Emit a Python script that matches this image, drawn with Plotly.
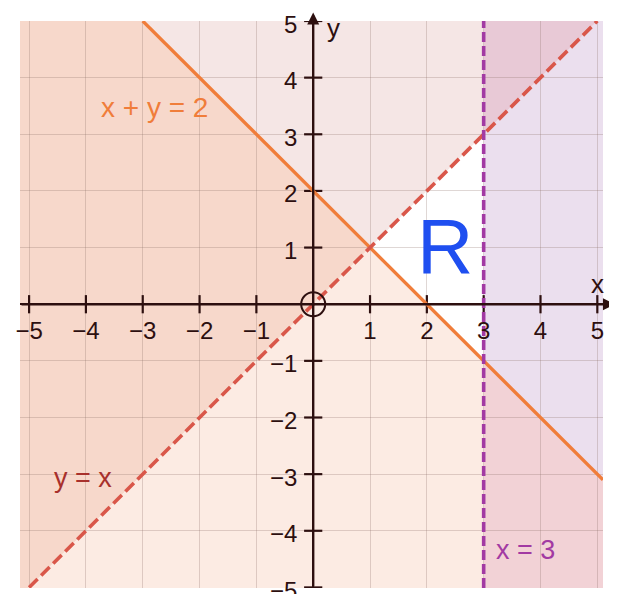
import plotly.graph_objects as go

# Half-planes that are shaded (the parts NOT in R), as a*x + b*y + c >= 0
# y > x, x + y < 2, x > 3
half_planes = {
    "A": (-1.0, 1.0, 0.0),
    "B": (-1.0, -1.0, 2.0),
    "C": (1.0, 0.0, -3.0),
}
# colour of each overlap combination (A, B, C)
region_colors = {
    (1, 0, 0): "#f5e6e5",
    (1, 1, 0): "#f7d8cb",
    (0, 1, 0): "#fcebe3",
    (0, 0, 1): "#ebdfee",
    (1, 0, 1): "#e8c9d6",
    (0, 1, 1): "#f2d2d6",
    (1, 1, 1): "#f0c8c4",
}

x_ticks = [-5, -4, -3, -2, -1, 1, 2, 3, 4, 5]
y_ticks = [-5, -4, -3, -2, -1, 1, 2, 3, 4, 5]
x_text = ["\u2212" + str(-v) if v < 0 else str(v) for v in x_ticks]
y_text = ["\u2212" + str(-v) if v < 0 else str(v) for v in y_ticks]

x_range = [-5.16, 5.10]
y_range = [-5.01, 5.0]

AXIS = "#2d0f0f"
FONT = "Liberation Sans, Arial, sans-serif"


def clip(poly, a, b, c):
    out = []
    n = len(poly)
    for i in range(n):
        p, q = poly[i], poly[(i + 1) % n]
        fp = a * p[0] + b * p[1] + c
        fq = a * q[0] + b * q[1] + c
        if fp >= 0:
            out.append(p)
        if fp * fq < 0:
            t = fp / (fp - fq)
            out.append((p[0] + t * (q[0] - p[0]), p[1] + t * (q[1] - p[1])))
    return out


box = [(x_range[0], y_range[0]), (x_range[1], y_range[0]),
       (x_range[1], y_range[1]), (x_range[0], y_range[1])]

shapes = []
for combo, col in region_colors.items():
    poly = box
    for flag, key in zip(combo, "ABC"):
        a, b, c = half_planes[key]
        poly = clip(poly, a, b, c) if flag else clip(poly, -a, -b, -c)
        if not poly:
            break
    if len(poly) < 3:
        continue
    path = "M " + " L ".join(f"{x},{y}" for x, y in poly) + " Z"
    shapes.append(dict(type="path", path=path, fillcolor=col,
                       line=dict(width=0), layer="below", xref="x", yref="y"))

fig = go.Figure()

# ticks on the axes
fig.add_trace(go.Scatter(x=x_ticks, y=[0] * len(x_ticks), mode="markers",
                         marker=dict(symbol="line-ns", size=13,
                                     line=dict(width=2.2, color=AXIS)),
                         hoverinfo="skip"))
fig.add_trace(go.Scatter(x=[0] * len(y_ticks), y=y_ticks, mode="markers",
                         marker=dict(symbol="line-ew", size=13,
                                     line=dict(width=2.2, color=AXIS)),
                         hoverinfo="skip"))

# x + y = 2 (from the top edge down to the right edge)
ly = [y_range[1], 2 - x_range[1]]
lx = [2 - v for v in ly]
fig.add_trace(go.Scatter(x=lx, y=ly, mode="lines",
                         line=dict(color="#f07d3a", width=3.3), hoverinfo="skip"))
# y = x
fig.add_trace(go.Scatter(x=[-5, 5], y=[-5, 5], mode="lines",
                         line=dict(color="#d9574a", width=3.6, dash="12px,5px"),
                         hoverinfo="skip"))
# x = 3
fig.add_trace(go.Scatter(x=[3, 3], y=y_range, mode="lines",
                         line=dict(color="#a23aa3", width=3.6, dash="10px,4px"),
                         hoverinfo="skip"))

# origin circle
fig.add_trace(go.Scatter(x=[0], y=[0], mode="markers",
                         marker=dict(symbol="circle-open", size=24, color=AXIS,
                                     line=dict(width=2, color=AXIS)),
                         hoverinfo="skip"))

# x tick labels
fig.add_trace(go.Scatter(x=x_ticks, y=[-0.5] * len(x_ticks), mode="text",
                         text=x_text, textposition="middle center",
                         textfont=dict(family=FONT, size=24, color=AXIS),
                         cliponaxis=False, hoverinfo="skip"))

annotations = [
    # axis arrows
    dict(x=5.31, y=0, ax=x_range[0], ay=0, xref="x", yref="y", axref="x", ayref="y",
         showarrow=True, arrowhead=2, arrowsize=1, arrowwidth=2.4, arrowcolor=AXIS,
         text=""),
    dict(x=0, y=5.15, ax=0, ay=y_range[0], xref="x", yref="y", axref="x", ayref="y",
         showarrow=True, arrowhead=2, arrowsize=1, arrowwidth=2.4, arrowcolor=AXIS,
         text=""),
    dict(x=0.35, y=4.88, text="y", showarrow=False,
         font=dict(family=FONT, size=26, color=AXIS)),
    dict(x=5.0, y=0.36, text="x", showarrow=False,
         font=dict(family=FONT, size=26, color=AXIS)),
    dict(x=-2.8, y=3.47, text="x + y = 2", showarrow=False,
         font=dict(family=FONT, size=28, color="#f07d3a")),
    dict(x=-4.05, y=-3.07, text="y = x", showarrow=False,
         font=dict(family=FONT, size=27, color="#a8302c")),
    dict(x=3.73, y=-4.34, text="x = 3", showarrow=False,
         font=dict(family=FONT, size=27, color="#a23aa3")),
    dict(x=2.32, y=1.03, text="R", showarrow=False,
         font=dict(family=FONT, size=78, color="#1f4ff0")),
]
# y tick labels (annotations so the bottom one is only cut by the page edge)
for v, t in zip(y_ticks, y_text):
    annotations.append(dict(x=0, y=v, text=t, showarrow=False, xanchor="right",
                            xshift=-14, yshift=-3,
                            font=dict(family=FONT, size=24, color=AXIS)))

# the page body adds an 8px margin, so the figure is a bit smaller
fig.update_layout(
    width=609, height=586,
    margin=dict(l=12, r=14, t=13, b=6),
    paper_bgcolor="white", plot_bgcolor="white",
    showlegend=False,
    shapes=shapes,
    annotations=annotations,
    xaxis=dict(range=x_range, dtick=1, tick0=0, showgrid=True,
               gridcolor="rgba(140,110,105,0.28)", gridwidth=1,
               zeroline=True, zerolinecolor=AXIS, zerolinewidth=2.4,
               showticklabels=False, ticks="", fixedrange=True),
    yaxis=dict(range=y_range, dtick=1, tick0=0, showgrid=True,
               gridcolor="rgba(140,110,105,0.28)", gridwidth=1,
               zeroline=True, zerolinecolor=AXIS, zerolinewidth=2.4,
               showticklabels=False, ticks="", fixedrange=True),
)

fig.write_html("out.html")
